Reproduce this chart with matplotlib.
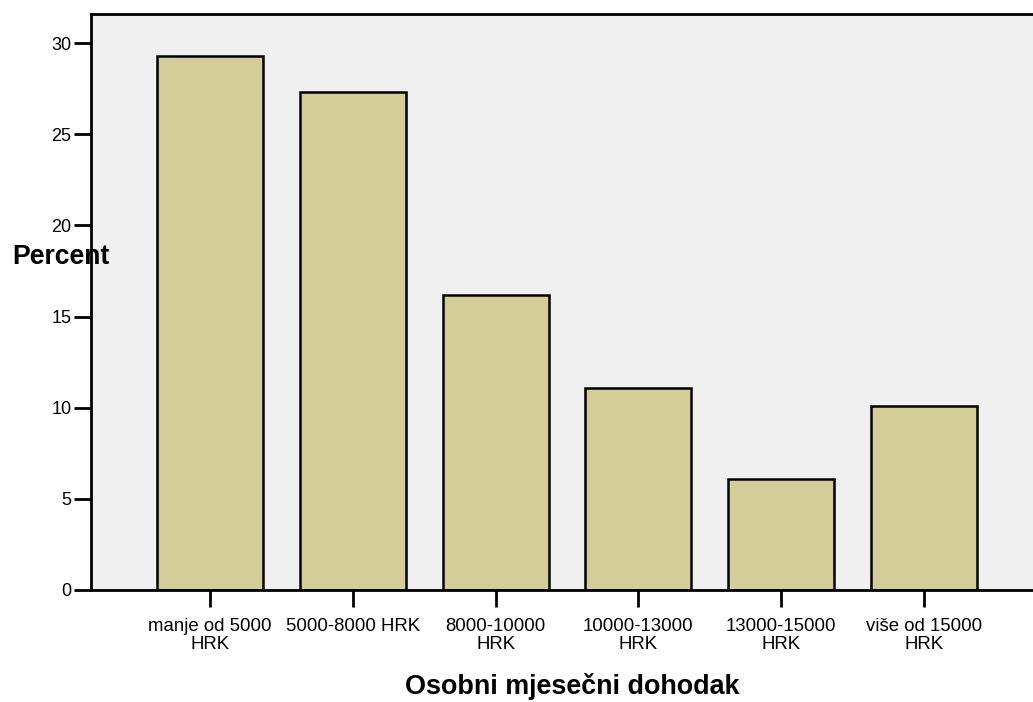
import matplotlib
matplotlib.use("Agg")
import matplotlib.pyplot as plt

categories = ["manje od 5000\nHRK", "5000-8000 HRK", "8000-10000\nHRK",
              "10000-13000\nHRK", "13000-15000\nHRK", "više od 15000\nHRK"]
percent = [29.3, 27.3, 16.2, 11.1, 6.1, 10.1]
yticks = [0, 5, 10, 15, 20, 25, 30]

W, H = 1033, 702
plt.rcParams['font.family'] = ['Liberation Sans', 'DejaVu Sans']
fig = plt.figure(figsize=(W / 100, H / 100), dpi=100)

x0, x1, y0, y1 = 91, 1043, 14, 590
ax = fig.add_axes([x0 / W, 1 - y1 / H, (x1 - x0) / W, (y1 - y0) / H])
ax.set_facecolor('#f0f0f0')

pos = list(range(len(categories)))
ax.bar(pos, percent, width=0.742, color='#d3ce97', edgecolor='black', linewidth=1.8, zorder=2)

ax.set_xlim(-0.833, 5.833)
ax.set_ylim(0, 31.6)
ax.set_yticks(yticks)
ax.set_yticklabels([str(v) for v in yticks], fontsize=13)
ax.set_xticks(pos)
ax.set_xticklabels(categories, fontsize=13.4, linespacing=1.12)

for s in ['left', 'top', 'bottom']:
    ax.spines[s].set_linewidth(2)
ax.spines['right'].set_visible(False)
ax.tick_params(axis='y', direction='out', length=12, width=2, pad=2)
ax.tick_params(axis='x', direction='out', length=12, width=2, pad=8)

fig.text(12 / W, 1 - 257 / H, "Percent", ha='left', va='center', fontsize=19.2, fontweight='bold')
fig.text(572 / W, 1 - 687 / H, "Osobni mjesečni dohodak", ha='center', va='center',
         fontsize=19.4, fontweight='bold')

fig.savefig("out.png", dpi=100)
